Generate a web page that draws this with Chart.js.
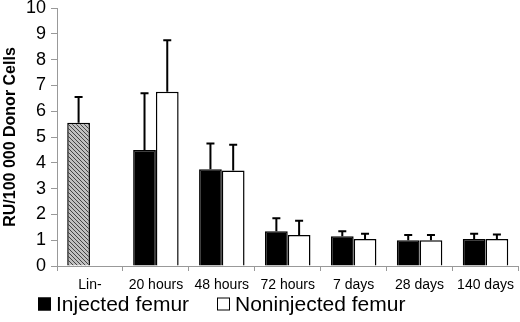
<!DOCTYPE html>
<html>
<head>
<meta charset="utf-8">
<script src="https://cdn.jsdelivr.net/npm/chart.js@4/dist/chart.umd.min.js"></script>
<style>
  html, body { margin: 0; padding: 0; background: #fff; }
  #wrap { width: 520px; height: 322px; }
</style>
</head>
<body>
<div id="wrap"><canvas id="grafico"></canvas></div>
<script>
// datos
var categorias = ['Lin-', '20 hours', '48 hours', '72 hours', '7 days', '28 days', '140 days'];
var inyectado = [5.55, 4.5, 3.75, 1.35, 1.15, 1.0, 1.05];
var inyectadoErr = [1.0, 2.2, 1.0, 0.5, 0.2, 0.2, 0.2];
var noInyectado = [null, 6.75, 3.7, 1.2, 1.05, 1.0, 1.05];
var noInyectadoErr = [null, 2.0, 1.0, 0.55, 0.2, 0.2, 0.17];
var ticksY = [0, 1, 2, 3, 4, 5, 6, 7, 8, 9, 10];

Chart.defaults.font.family = '"Liberation Sans", Arial, sans-serif';
Chart.defaults.color = '#000';

// patron rayado para la barra Lin-
function hacerPatron() {
  var c = document.createElement('canvas');
  c.width = 4; c.height = 4;
  var g = c.getContext('2d');
  g.fillStyle = '#c0c0c0';
  g.fillRect(0, 0, 4, 4);
  g.strokeStyle = '#444';
  g.lineWidth = 1;
  g.beginPath();
  g.moveTo(0, 0); g.lineTo(4, 4);
  g.moveTo(-1, 3); g.lineTo(1, 5);
  g.moveTo(3, -1); g.lineTo(5, 1);
  g.stroke();
  return g.createPattern(c, 'repeat');
}
var patron = hacerPatron();

var errores = [inyectadoErr, noInyectadoErr];

var barrasError = {
  id: 'barrasError',
  afterDatasetsDraw: function (chart) {
    var ctx = chart.ctx;
    var y = chart.scales.y;
    ctx.save();
    ctx.strokeStyle = '#000';
    ctx.lineWidth = 2;
    chart.data.datasets.forEach(function (ds, i) {
      var meta = chart.getDatasetMeta(i);
      meta.data.forEach(function (bar, j) {
        var v = ds.data[j];
        var e = errores[i][j];
        if (v == null || e == null) return;
        var yTop = y.getPixelForValue(v + e);
        ctx.beginPath();
        ctx.moveTo(bar.x, bar.y);
        ctx.lineTo(bar.x, yTop);
        ctx.moveTo(bar.x - 4, yTop);
        ctx.lineTo(bar.x + 4, yTop);
        ctx.stroke();
      });
    });
    ctx.restore();
  }
};

// leyenda propia debajo del eje x
var leyenda = {
  id: 'leyenda',
  afterDraw: function (chart) {
    var ctx = chart.ctx;
    var pos = [38, 217];
    ctx.save();
    ctx.font = '21px "Liberation Sans", Arial, sans-serif';
    ctx.textBaseline = 'middle';
    chart.data.datasets.forEach(function (ds, i) {
      var x = pos[i];
      var yc = 304;
      ctx.fillStyle = i === 0 ? '#000' : '#fff';
      ctx.strokeStyle = '#000';
      ctx.lineWidth = 1;
      ctx.fillRect(x, yc - 6.5, 13, 13);
      ctx.strokeRect(x + 0.5, yc - 6, 12, 12);
      ctx.fillStyle = '#000';
      ctx.fillText(ds.label, x + 18, yc + 1);
    });
    ctx.restore();
  }
};

var ctx = document.getElementById('grafico').getContext('2d');
new Chart(ctx, {
  type: 'bar',
  data: {
    labels: categorias,
    datasets: [{
      label: 'Injected femur',
      data: inyectado,
      backgroundColor: inyectado.map(function (v, i) { return i === 0 ? patron : '#000'; }),
      borderColor: '#000',
      borderWidth: 1.5,
      barPercentage: 1.0,
      categoryPercentage: 0.69
    }, {
      label: 'Noninjected femur',
      data: noInyectado,
      backgroundColor: '#fff',
      borderColor: '#000',
      borderWidth: 1.5,
      barPercentage: 1.0,
      categoryPercentage: 0.69
    }]
  },
  options: {
    responsive: true,
    maintainAspectRatio: false,
    animation: false,
    layout: { padding: { top: 0, right: 1, left: 1, bottom: 0 } },
    plugins: {
      tooltip: { enabled: false },
      legend: { display: false }
    },
    scales: {
      x: {
        afterFit: function (s) { s.height = 56; },
        grid: { display: true, drawOnChartArea: false, color: '#999', tickLength: 5 },
        border: { color: '#999' },
        ticks: { font: { size: 14 }, padding: 6 }
      },
      y: {
        min: 0,
        max: 10,
        afterFit: function (s) { s.width = 56; s.paddingTop = 8; s.paddingBottom = 0; },
        afterBuildTicks: function (s) { s.ticks = ticksY.map(function (v) { return { value: v }; }); },
        grid: { display: true, drawOnChartArea: false, color: '#999', tickLength: 6 },
        border: { color: '#999' },
        ticks: { font: { size: 18 }, padding: 5, autoSkip: false },
        title: {
          display: true,
          text: 'RU/100 000 Donor Cells',
          font: { size: 16, weight: 'bold' },
          padding: { top: 0, bottom: 3 }
        }
      }
    }
  },
  plugins: [barrasError, leyenda]
});
</script>
</body>
</html>
